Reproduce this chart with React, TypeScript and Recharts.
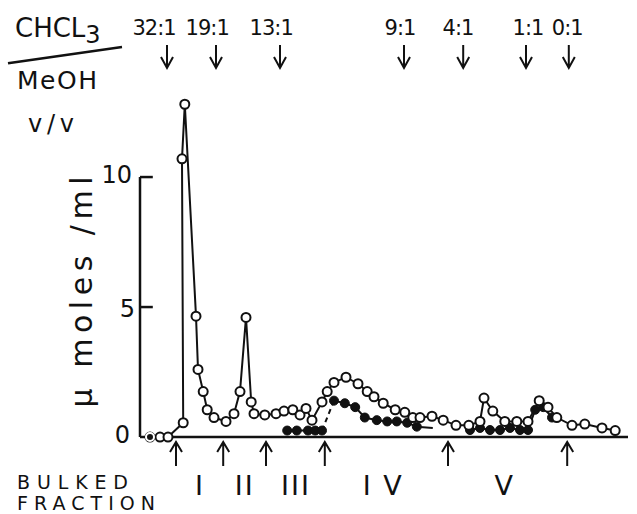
import React from "react";
import {
  LineChart,
  Line,
  XAxis,
  YAxis,
  ReferenceLine,
  ReferenceDot,
} from "recharts";

// tube position (x) vs µmoles/ml (y)
const openX = [
  1.25, 2.5, 3.5, 5.4, 5.25, 5.6, 7.0, 7.25, 7.9, 8.4, 9.25, 10.75, 11.75, 12.5,
  13.25, 13.9, 14.25, 15.6, 17.0, 18.0, 19.1, 20.0, 20.75, 21.5, 22.75, 23.4,
  24.25, 25.75, 27.25, 28.4, 29.25, 30.4, 31.9, 33.1, 34.1, 35.0, 36.5, 37.9,
  39.5, 41.1, 42.5, 43.0, 44.1, 45.6, 47.1, 48.5, 49.9, 51.0, 52.1, 54.0, 55.6,
  57.75, 59.4,
];
const openY = [
  0, 0, 0, 0.55, 10.7, 12.8, 4.65, 2.6, 1.75, 1.05, 0.75, 0.6, 0.9, 1.75, 4.6,
  1.35, 0.9, 0.85, 0.9, 1.0, 1.05, 0.85, 1.1, 0.65, 1.35, 1.75, 2.1, 2.3, 2.05,
  1.75, 1.55, 1.3, 1.05, 0.95, 0.75, 0.75, 0.8, 0.65, 0.45, 0.45, 0.6, 1.5, 1.0,
  0.6, 0.6, 0.6, 1.4, 1.15, 0.75, 0.45, 0.5, 0.35, 0.25,
];

const filledIIIX = [18.4, 19.6, 21.0, 21.9, 22.75];
const filledIIIY = [0.25, 0.25, 0.25, 0.25, 0.25];

const filledIVX = [24.25, 25.6, 26.9, 28.1, 29.6, 30.9, 32.1, 33.4, 34.6];
const filledIVY = [1.4, 1.3, 1.15, 0.75, 0.65, 0.6, 0.6, 0.55, 0.4];
const tailIVX = [34.6, 36.6];
const tailIVY = [0.4, 0.35];

const filledVX = [41.25, 42.5, 43.75, 45.0, 46.25, 47.5, 48.5, 49.4, 50.4, 51.5];
const filledVY = [0.27, 0.35, 0.27, 0.27, 0.35, 0.27, 0.27, 1.05, 1.15, 0.75];

const ratioLabels = ["32:1", "19:1", "13:1", "9:1", "4:1", "1:1", "0:1"];
const ratioLabelX = [1.75, 8.4, 16.4, 32.5, 39.75, 48.5, 53.4];
const ratioArrowX = [3.375, 9.5, 17.5, 33, 40.4, 48.25, 53.6];

const bulkArrowX = [4.5, 10.4, 15.75, 23.1, 38.5, 53.4];
const fractionLabels = ["I", "II", "III", "I V", "V"];
const fractionLabelX = [7.5, 13.1, 19.5, 30.4, 45.6];

const yTicks = [0, 5, 10];
const yTickLabelX = [-1.25, -0.625, -1.0];
const yTickLabelY = [-0.23, 4.6, 9.77];

const zip = (xs: number[], ys: number[]) => xs.map((x, i) => ({ x, y: ys[i] }));

const openData = zip(openX, openY);
const filledIII = zip(filledIIIX, filledIIIY);
const filledIV = zip(filledIVX, filledIVY);
const tailIV = zip(tailIVX, tailIVY);
const filledV = zip(filledVX, filledVY);
const dashedJoin = [
  { x: filledIIIX[filledIIIX.length - 1], y: filledIIIY[filledIIIY.length - 1] },
  { x: filledIVX[0], y: filledIVY[0] },
];

const FONT = "'DejaVu Sans', 'Liberation Sans', sans-serif";
const INK = "#111";

const textShape =
  (content: React.ReactNode, size: number, anchor: string, extra: any = {}) =>
  (p: any) =>
    (
      <text
        x={p.cx}
        y={p.cy}
        fontFamily={FONT}
        fontSize={size}
        fill={INK}
        textAnchor={anchor}
        lengthAdjust="spacing"
        {...extra}
      >
        {content}
      </text>
    );

const downArrow = (p: any) => (
  <path
    d={`M${p.cx},${p.cy} L${p.cx},${p.cy + 23} M${p.cx - 6},${p.cy + 12} L${p.cx},${p.cy + 23} L${p.cx + 6},${p.cy + 12}`}
    stroke={INK}
    strokeWidth={2}
    fill="none"
  />
);

const upArrow = (p: any) => (
  <path
    d={`M${p.cx},${p.cy} L${p.cx},${p.cy + 24} M${p.cx - 6},${p.cy + 10} L${p.cx},${p.cy} L${p.cx + 6},${p.cy + 10}`}
    stroke={INK}
    strokeWidth={2}
    fill="none"
  />
);

export default function App() {
  return (
    <div style={{ background: "#fff", width: 637, height: 514 }}>
      <style>{`body{margin:0}`}</style>
      <LineChart
        width={637}
        height={514}
        margin={{ top: 0, right: 0, left: 0, bottom: 0 }}
      >
        <XAxis
          type="number"
          dataKey="x"
          domain={[-17.5, 62.125]}
          allowDataOverflow
          hide
        />
        <YAxis
          type="number"
          domain={[-2.96, 16.81]}
          allowDataOverflow
          hide
        />

        {/* axes */}
        <ReferenceLine
          segment={[{ x: 0, y: 0 }, { x: 0, y: 10 }]}
          stroke={INK}
          strokeWidth={2.5}
        />
        <ReferenceLine
          segment={[{ x: 0, y: 0 }, { x: 61, y: 0 }]}
          stroke={INK}
          strokeWidth={2.5}
        />
        {yTicks
          .filter((t) => t > 0)
          .map((t) => (
            <ReferenceLine
              key={`tk${t}`}
              segment={[{ x: 0, y: t }, { x: 1.6, y: t }]}
              stroke={INK}
              strokeWidth={2.5}
            />
          ))}
        {yTicks.map((t, i) => (
          <ReferenceDot
            key={`tl${t}`}
            x={yTickLabelX[i]}
            y={yTickLabelY[i]}
            r={0}
            shape={textShape(String(t), 24, "end")}
          />
        ))}
        <ReferenceDot
          x={-7.25}
          y={5.58}
          r={0}
          shape={(p: any) => (
            <text
              x={p.cx}
              y={p.cy}
              fontFamily={FONT}
              fontSize={30}
              fill={INK}
              textAnchor="middle"
              dominantBaseline="central"
              textLength={231}
              lengthAdjust="spacing"
              transform={`rotate(-90 ${p.cx} ${p.cy})`}
            >
              μ moles /ml
            </text>
          )}
        />

        {/* solvent ratio header */}
        <ReferenceDot
          x={-15.625}
          y={15.38}
          r={0}
          shape={textShape(
            <>
              CHCL
              <tspan dy={6} fontSize={24}>3</tspan>
            </>,
            26,
            "start"
          )}
        />
        <ReferenceLine
          segment={[{ x: -16.5, y: 14.38 }, { x: -2.25, y: 15.0 }]}
          stroke={INK}
          strokeWidth={2.5}
        />
        <ReferenceDot
          x={-15.375}
          y={13.38}
          r={0}
          shape={textShape("MeOH", 25, "start", { textLength: 80 })}
        />
        <ReferenceDot
          x={-14}
          y={11.73}
          r={0}
          shape={textShape("v/v", 24, "start", { textLength: 46 })}
        />
        {ratioLabels.map((l, i) => (
          <ReferenceDot
            key={`rl${i}`}
            x={ratioLabelX[i]}
            y={15.46}
            r={0}
            shape={textShape(l, 21, "middle", { letterSpacing: -1 })}
          />
        ))}
        {ratioArrowX.map((x, i) => (
          <ReferenceDot key={`ra${i}`} x={x} y={15.08} r={0} shape={downArrow} />
        ))}

        {/* bulked fractions */}
        {bulkArrowX.map((x, i) => (
          <ReferenceDot
            key={`ba${i}`}
            x={x}
            y={-0.19}
            r={0}
            ifOverflow="visible"
            shape={upArrow}
          />
        ))}
        {fractionLabels.map((l, i) => (
          <ReferenceDot
            key={`fl${i}`}
            x={fractionLabelX[i]}
            y={-2.23}
            r={0}
            shape={textShape(l, 27, "middle", { letterSpacing: 2 })}
          />
        ))}
        <ReferenceDot
          x={-15.375}
          y={-2.0}
          r={0}
          shape={textShape("BULKED", 19, "start", { textLength: 111 })}
        />
        <ReferenceDot
          x={-15.375}
          y={-2.8}
          r={0}
          shape={textShape("FRACTION", 19, "start", { textLength: 138 })}
        />

        {/* series */}
        <Line
          data={dashedJoin}
          dataKey="y"
          stroke={INK}
          strokeWidth={2}
          strokeDasharray="5 4"
          dot={false}
          isAnimationActive={false}
        />
        <Line
          data={tailIV}
          dataKey="y"
          stroke={INK}
          strokeWidth={2}
          dot={false}
          isAnimationActive={false}
        />
        <Line
          data={filledIII}
          dataKey="y"
          stroke={INK}
          strokeWidth={2}
          dot={{ r: 4.5, fill: INK, stroke: INK, strokeWidth: 1 }}
          isAnimationActive={false}
        />
        <Line
          data={filledIV}
          dataKey="y"
          stroke={INK}
          strokeWidth={2}
          dot={{ r: 4.5, fill: INK, stroke: INK, strokeWidth: 1 }}
          isAnimationActive={false}
        />
        <Line
          data={filledV}
          dataKey="y"
          stroke={INK}
          strokeWidth={2}
          dot={{ r: 4.5, fill: INK, stroke: INK, strokeWidth: 1 }}
          isAnimationActive={false}
        />
        <Line
          data={openData}
          dataKey="y"
          stroke={INK}
          strokeWidth={2}
          dot={{ r: 4.5, fill: "#fff", stroke: INK, strokeWidth: 2 }}
          isAnimationActive={false}
        />
      </LineChart>
    </div>
  );
}
